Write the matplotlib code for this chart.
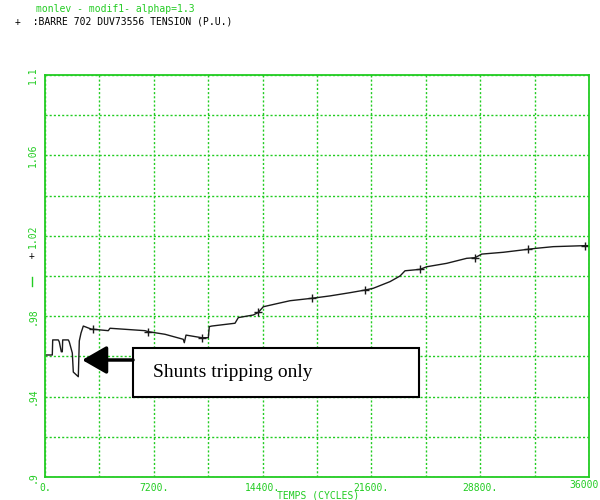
import matplotlib.pyplot as plt
from matplotlib.patches import Rectangle, FancyArrowPatch
from matplotlib.lines import Line2D
import numpy as np

# voltage trace (cycles, p.u.)
temps = [0, 483, 510, 880, 946, 1079, 1145, 1171, 1542, 1608, 1807, 1873, 2204,
         2270, 2382, 2535, 3090, 3196, 4189, 4301, 6618, 6836, 7941, 9152, 9218,
         9331, 10370, 10807, 10873, 11032, 12574, 12792, 13785, 14116, 14446,
         15439, 16213, 17649, 18860, 20184, 21176, 21726, 22831, 23493, 23824,
         24816, 25260, 26583, 27907, 28456, 28899, 30329, 31983, 32539, 33638,
         35735, 35954]
tension = [0.9607, 0.9607, 0.9682, 0.9682, 0.9672, 0.9623, 0.9623, 0.9682, 0.9682,
           0.9672, 0.9617, 0.9522, 0.9499, 0.9677, 0.9716, 0.9751, 0.9735, 0.9735,
           0.9728, 0.9740, 0.9728, 0.9723, 0.9710, 0.9685, 0.9668, 0.9706, 0.9693,
           0.9693, 0.9748, 0.9751, 0.9765, 0.9793, 0.9806, 0.9819, 0.9847, 0.9864,
           0.9877, 0.9889, 0.9901, 0.9917, 0.9930, 0.9939, 0.9972, 1.0000, 1.0026,
           1.0033, 1.0046, 1.0063, 1.0088, 1.0091, 1.0109, 1.0118, 1.0133, 1.0138,
           1.0146, 1.0151, 1.0151]
marker_temps = [3196, 6836, 10370, 14116, 17649, 21176, 24816, 28456, 31983, 35735]

x_ticks = [0, 7200, 14400, 21600, 28800]
x_labels = ["0.", "7200.", "14400.", "21600.", "28800."]
y_ticks = [0.9, 0.94, 0.98, 1.02, 1.06, 1.1]
y_labels = [".9", ".94", ".98", "1.02", "1.06", "1.1"]

green = "#22cc22"
mono = "DejaVu Sans Mono"

fig = plt.figure(figsize=(6, 5), dpi=100)
ax = fig.add_axes([0.075, 0.046, 0.9067, 0.804])

ax.plot(temps, tension, color="#1a1a1a", lw=1)
ax.plot(marker_temps, np.interp(marker_temps, temps, tension), ls="none",
        marker="+", ms=6, mew=1, color="#1a1a1a")

ax.set_xlim(0, 36000)
ax.set_ylim(0.9, 1.1)
xt = np.arange(0, 36001, 3600)
ax.set_xticks(xt)
ax.set_xticklabels([x_labels[x_ticks.index(t)] if t in x_ticks else "" for t in xt])
yt = np.round(np.arange(0.9, 1.1001, 0.02), 2)
ax.set_yticks(yt)
ax.set_yticklabels([y_labels[y_ticks.index(t)] if t in y_ticks else "" for t in yt],
                   rotation=90, va="center")
ax.tick_params(length=0, colors=green, labelsize=7)
ax.tick_params(axis="x", pad=4)
ax.tick_params(axis="y", pad=5)
for lab in ax.get_xticklabels() + ax.get_yticklabels():
    lab.set_family(mono)
ax.grid(True, color=green, ls=(0, (1.5, 1.5)), lw=1)
for s in ax.spines.values():
    s.set_color(green)
    s.set_linewidth(1.3)

fig.text(0.998, 0.029, "36000", color=green, fontsize=7, family=mono, ha="right", va="center")
fig.text(0.53, 0.009, "TEMPS (CYCLES)", color=green, fontsize=7, family=mono,
         ha="center", va="center")

fig.text(0.06, 0.977, "monlev - modif1- alphap=1.3", color=green, fontsize=7, family=mono)
fig.text(0.025, 0.951, "+  :BARRE 702 DUV73556 TENSION (P.U.)", color="black",
         fontsize=7, family=mono)
fig.text(0.053, 0.482, "+", color="black", fontsize=7, family=mono, ha="center")
fig.lines.append(Line2D([0.053, 0.053], [0.428, 0.446], transform=fig.transFigure,
                        color=green, lw=1))

# annotation box and arrow
fig.patches.append(Rectangle((0.2217, 0.206), 0.4767, 0.098, transform=fig.transFigure,
                             facecolor="white", edgecolor="black", lw=1.5))
fig.text(0.255, 0.255, "Shunts tripping only", fontsize=14, family="Liberation Serif",
         va="center", ha="left")
fig.patches.append(FancyArrowPatch((0.2217, 0.28), (0.137, 0.28), transform=fig.transFigure,
                                   arrowstyle="-|>,head_length=0.75,head_width=0.43",
                                   mutation_scale=20, color="black", lw=2.5,
                                   shrinkA=0, shrinkB=0))

fig.savefig("out.png", dpi=100)
